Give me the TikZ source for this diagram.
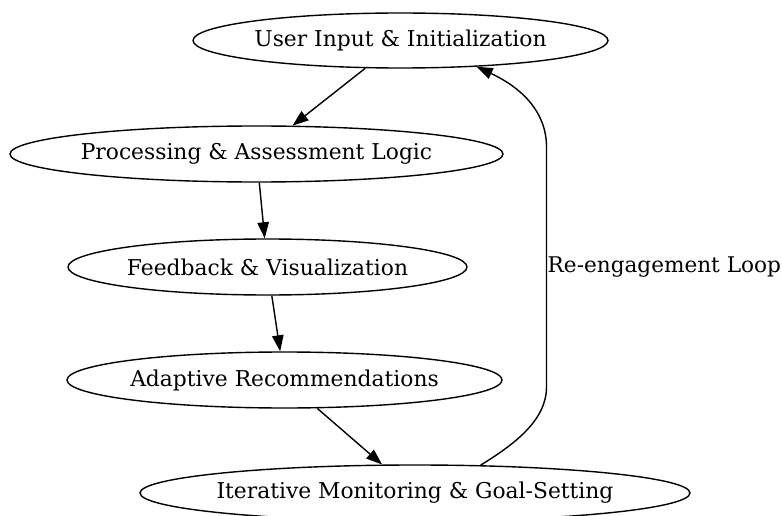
\documentclass[tikz,border=0pt]{standalone}
\usepackage{fontspec}
\setmainfont{DejaVu Serif}
\usetikzlibrary{shapes.geometric,arrows.meta}
% centred text that leaves the ellipse size to minimum width/height
\newcommand{\stagetext}[1]{\makebox[0pt][c]{#1}}
\tikzset{
  stage/.style={draw, ellipse, line width=1.4pt, inner sep=0pt,
    font=\fontsize{21.8}{25}\selectfont},
  flow/.style={line width=1.4pt, -{Triangle[length=16pt,width=11.5pt]}},
  looplabel/.style={anchor=west, inner sep=0pt, font=\fontsize{21.6}{25}\selectfont}
}
\begin{document}
\begin{tikzpicture}[x=1pt,y=-1pt]
\useasboundingbox (0,0) rectangle (782,516);
\node[stage, minimum width=415pt, minimum height=55pt] (init) at (400.5,40.5) {\stagetext{User Input \& Initialization}};
\node[stage, minimum width=493pt, minimum height=56pt] (proc) at (256.5,154) {\stagetext{Processing \& Assessment Logic}};
\node[stage, minimum width=399pt, minimum height=56pt] (feed) at (267.5,267) {\stagetext{Feedback \& Visualization}};
\node[stage, minimum width=435pt, minimum height=56pt] (adapt) at (284.5,380) {\stagetext{Adaptive Recommendations}};
\node[stage, minimum width=550pt, minimum height=56pt] (mon) at (415,493) {\stagetext{Iterative Monitoring \& Goal-Setting}};

\draw[flow] (init) -- (proc);
\draw[flow] (proc) -- (feed);
\draw[flow] (feed) -- (adapt);
\draw[flow] (adapt) -- (mon);

% feedback loop back to the start
\coordinate (lb) at (546.5,387);
\coordinate (lt) at (546.5,147);
\draw[flow] (mon.23) .. controls (515,444) and (546.5,420) .. (lb)
  -- (lt) .. controls (546.5,112) and (522,88) .. (init.-19);
\node[looplabel] (looptext) at (547.5,267) {Re-engagement Loop};
\end{tikzpicture}
\end{document}
